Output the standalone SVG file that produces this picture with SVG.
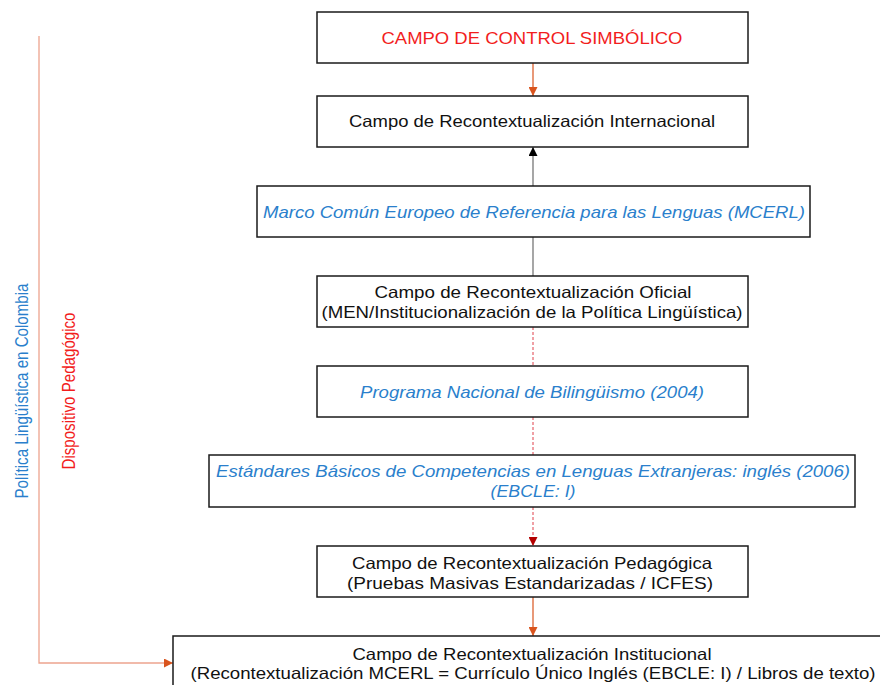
<svg xmlns="http://www.w3.org/2000/svg" width="880" height="685" viewBox="0 0 880 685">
<style>
.box{fill:#fff;stroke:#1a1a1a;stroke-width:1.5}
text{font-family:"Liberation Sans",Arial,sans-serif;font-size:16.5px;text-anchor:middle;fill:#111}
.red{fill:#f21d1d}
.blue{fill:#2a7fcc;font-style:italic}
.vblue{fill:#2a7fcc}
.vert{font-size:18px}
</style>
<defs>
<marker id="ahO" viewBox="0 0 10 10" refX="10" refY="5" markerWidth="9" markerHeight="9" markerUnits="userSpaceOnUse" orient="auto"><path d="M0,0L10,5L0,10z" fill="#d9541e"/></marker>
<marker id="ahK" viewBox="0 0 10 10" refX="10" refY="5" markerWidth="9" markerHeight="9" markerUnits="userSpaceOnUse" orient="auto"><path d="M0,0L10,5L0,10z" fill="#000"/></marker>
<marker id="ahR" viewBox="0 0 10 10" refX="10" refY="5" markerWidth="9" markerHeight="9" markerUnits="userSpaceOnUse" orient="auto"><path d="M0,0L10,5L0,10z" fill="#b30000"/></marker>
</defs>
<g id="connectors" fill="none">
<line x1="533" y1="63" x2="533" y2="96" stroke="#d9541e" stroke-width="1.2" marker-end="url(#ahO)"/>
<line x1="533" y1="186" x2="533" y2="147" stroke="#777" stroke-width="1.3" marker-end="url(#ahK)"/>
<line x1="533" y1="237" x2="533" y2="276" stroke="#777" stroke-width="1.3"/>
<line x1="533" y1="327" x2="533" y2="366" stroke="#e0404a" stroke-width="1" stroke-dasharray="3,2"/>
<line x1="533" y1="417" x2="533" y2="455" stroke="#e0404a" stroke-width="1" stroke-dasharray="3,2"/>
<line x1="533" y1="507" x2="533" y2="546" stroke="#e0404a" stroke-width="1" stroke-dasharray="3,2" marker-end="url(#ahR)"/>
<line x1="533" y1="597" x2="533" y2="636" stroke="#d9541e" stroke-width="1.2" marker-end="url(#ahO)"/>
<polyline points="39,36 39,663 173,663" stroke="#eda48e" stroke-width="1.3" marker-end="url(#ahO)"/>
</g>
<g id="n1"><rect class="box" x="317" y="12" width="431" height="51"/><text class="red" x="532" y="44" textLength="301" lengthAdjust="spacingAndGlyphs">CAMPO DE CONTROL SIMBÓLICO</text></g>
<g id="n2"><rect class="box" x="317" y="96" width="431" height="51"/><text x="532" y="127" textLength="366" lengthAdjust="spacingAndGlyphs">Campo de Recontextualización Internacional</text></g>
<g id="n3"><rect class="box" x="257" y="186" width="553" height="51"/><text class="blue" x="534" y="218" textLength="542" lengthAdjust="spacingAndGlyphs">Marco Común Europeo de Referencia para las Lenguas (MCERL)</text></g>
<g id="n4"><rect class="box" x="317" y="276" width="431" height="51"/><text x="533" y="298" textLength="317" lengthAdjust="spacingAndGlyphs">Campo de Recontextualización Oficial</text><text x="532" y="318" textLength="421" lengthAdjust="spacingAndGlyphs">(MEN/Institucionalización de la Política Lingüística)</text></g>
<g id="n5"><rect class="box" x="317" y="366" width="431" height="51"/><text class="blue" x="532" y="398" textLength="344" lengthAdjust="spacingAndGlyphs">Programa Nacional de Bilingüismo (2004)</text></g>
<g id="n6"><rect class="box" x="209" y="455" width="646" height="52"/><text class="blue" x="533" y="477" textLength="634" lengthAdjust="spacingAndGlyphs">Estándares Básicos de Competencias en Lenguas Extranjeras: inglés (2006)</text><text class="blue" x="533" y="497" textLength="85" lengthAdjust="spacingAndGlyphs">(EBCLE: I)</text></g>
<g id="n7"><rect class="box" x="317" y="546" width="431" height="51"/><text x="532" y="569" textLength="360" lengthAdjust="spacingAndGlyphs">Campo de Recontextualización Pedagógica</text><text x="530" y="589" textLength="366" lengthAdjust="spacingAndGlyphs">(Pruebas Masivas Estandarizadas / ICFES)</text></g>
<g id="n8"><rect class="box" x="173" y="636" width="715" height="60"/><text x="532" y="660" textLength="359" lengthAdjust="spacingAndGlyphs">Campo de Recontextualización Institucional</text><text x="533" y="679" textLength="685" lengthAdjust="spacingAndGlyphs">(Recontextualización MCERL = Currículo Único Inglés (EBCLE: I) / Libros de texto)</text></g>
<g id="labels">
<text class="vblue vert" transform="translate(28,391) rotate(-90)" textLength="215" lengthAdjust="spacingAndGlyphs">Política Lingüística en Colombia</text>
<text class="red vert" transform="translate(75,391) rotate(-90)" textLength="157" lengthAdjust="spacingAndGlyphs">Dispositivo Pedagógico</text>
</g>
</svg>
